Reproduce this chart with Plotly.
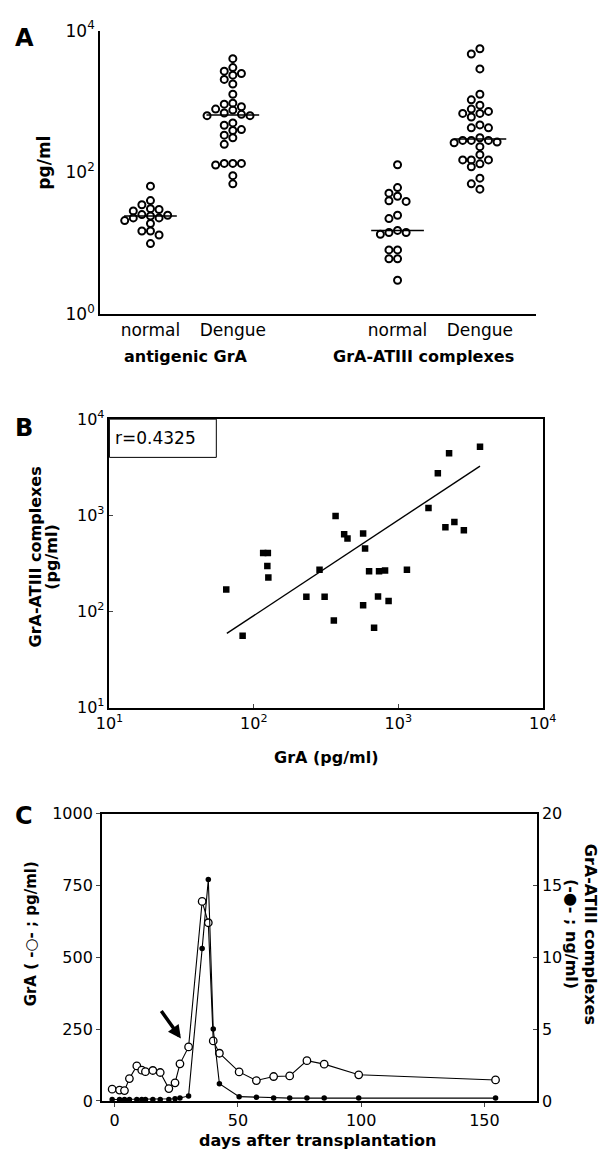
import numpy as np
import plotly.graph_objects as go

W, H = 613, 1160

# ---------------- Panel A data (pg/ml) ----------------
groups_A = ["normal", "Dengue", "normal", "Dengue"]
group_titles_A = ["antigenic GrA", "GrA-ATIII complexes"]
normal_grA = [64, 40, 35, 30, 28.6, 30.8, 24.9, 22.8, 20.9, 25.4, 22.8, 24.3, 19, 14.9, 14.9, 13.1, 9.9]
dengue_grA = [4025, 3014, 2679, 2355, 2485, 2050, 1765, 1266, 918, 948, 843, 782, 757, 688, 631,
              631, 659, 499, 462, 390, 402, 335, 308, 249, 134, 134, 127, 134, 90, 69]
normal_cx = [128, 61, 51, 39.8, 39, 46, 22.3, 24.9, 15.2, 14.2, 13.4, 14.2, 8.07, 8.07, 6.04, 6.04, 3.01]
dengue_cx = [5550, 4677, 2886, 1266, 1055, 889, 782, 680, 604, 680, 725, 425, 425, 468, 283,
             268, 231, 262, 308, 283, 283, 178, 150, 150, 132, 150, 120, 83, 69, 58]

# ---------------- Panel B data (pg/ml) ----------------
b_gra = [64.4, 83.6, 116, 125, 124, 126, 231, 285, 309, 358, 368, 422, 445, 571, 589,
         571, 628, 680, 724, 736, 810, 857, 1148, 1619, 1879, 2120, 2248, 2446, 2845, 3681]
b_cx = [169, 55.9, 404, 406, 296, 225, 142, 271, 142, 80.5, 984, 635, 572, 645, 451,
        116, 262, 67.6, 143, 262, 266, 128, 271, 1191, 2730, 751, 4406, 853, 699, 5160]
fit_x = [65, 3680]
fit_y = [59, 3250]
r_text = "r=0.4325"

# ---------------- Panel C data ----------------
days = [-1, 2, 4, 6, 9, 11, 12.5, 15.5, 18.5, 22, 24.5, 26.5, 30, 35.5, 38, 40, 42.5,
        50.5, 57.5, 64.5, 71, 78, 85, 99, 154.5]
gra_pg = [41, 38, 36, 78, 122, 107, 102, 106, 99, 43, 63, 129, 188, 694, 620, 209, 166,
          101, 71, 85, 87, 140, 128, 91, 73]
cx_ng = [0.1, 0.1, 0.1, 0.1, 0.1, 0.1, 0.1, 0.1, 0.1, 0.1, 0.15, 0.2, 0.35, 10.6, 15.4, 5.0, 1.2,
         0.3, 0.25, 0.2, 0.2, 0.2, 0.2, 0.2, 0.2]
arrow_from = (18.5, 318)
arrow_to = (26.9, 217)

FONT = "DejaVu Sans"


def px_x(p):
    return p / W


def px_y(p):
    return 1 - p / H


# ---------------- layout geometry ----------------
A_left, A_right, A_top, A_bot = 90, 547, 19, 308
B_left, B_right, B_top, B_bot = 100, 554, 415, 709
C_left, C_right, C_top, C_bot = 92, 548, 817, 1110

group_pos = [1, 2, 4, 5]
A_first_px = 143.0
A_unit_px = 86.3
A_range = [1 - (A_first_px - A_left) / A_unit_px, 1 + (A_right - A_first_px) / A_unit_px]
A_dec_px = (A_bot - A_top) / 4.0


def swarm(values, col_px=9.0, min_d=7.0):
    vals = np.asarray(values, dtype=float)
    order = np.argsort(-vals, kind="stable")
    placed = []
    offs = np.zeros(len(vals))
    cands = [0]
    for j in range(1, 12):
        cands += [-j, j]
    for i in order:
        y = np.log10(vals[i]) * A_dec_px
        chosen = 0
        for c in cands:
            x = c * col_px
            if all((x - qx) ** 2 + (y - qy) ** 2 >= min_d ** 2 for qx, qy in placed):
                chosen = x
                break
        placed.append((chosen, y))
        offs[i] = chosen
    return offs / A_unit_px


fig = go.Figure()

# ---- Panel A ----
for pos, vals in zip(group_pos, [normal_grA, dengue_grA, normal_cx, dengue_cx]):
    offs = swarm(vals)
    fig.add_trace(go.Scatter(
        x=pos + offs, y=vals, mode="markers", xaxis="x", yaxis="y",
        marker=dict(symbol="circle-open", size=7, color="black", line=dict(width=2, color="black")),
        showlegend=False, hoverinfo="skip"))
    med = float(np.median(vals))
    fig.add_trace(go.Scatter(
        x=[pos - 0.32, pos + 0.32], y=[med, med], mode="lines", xaxis="x", yaxis="y",
        line=dict(color="black", width=1.5), showlegend=False, hoverinfo="skip"))

# ---- Panel B ----
fig.add_trace(go.Scatter(
    x=b_gra, y=b_cx, mode="markers", xaxis="x2", yaxis="y2",
    marker=dict(symbol="square", size=6.5, color="black"), showlegend=False, hoverinfo="skip"))
fig.add_trace(go.Scatter(
    x=fit_x, y=fit_y, mode="lines", xaxis="x2", yaxis="y2",
    line=dict(color="black", width=1.4), showlegend=False, hoverinfo="skip"))

# ---- Panel C ----
fig.add_trace(go.Scatter(
    x=days, y=cx_ng, mode="lines+markers", xaxis="x3", yaxis="y4",
    line=dict(color="black", width=1.1),
    marker=dict(symbol="circle", size=5.5, color="black"), showlegend=False, hoverinfo="skip"))
fig.add_trace(go.Scatter(
    x=days, y=gra_pg, mode="lines+markers", xaxis="x3", yaxis="y3",
    line=dict(color="black", width=1.1),
    marker=dict(symbol="circle", size=7.5, color="white", line=dict(color="black", width=1.3)),
    showlegend=False, hoverinfo="skip"))

tickf = dict(family=FONT, size=16, color="black")
axis_common = dict(showgrid=False, zeroline=False, showline=True, linecolor="black", linewidth=1.5)

sup = lambda e: "10<sup>%d</sup>" % e

fig.update_layout(
    width=W, height=H, margin=dict(l=0, r=0, t=0, b=0),
    paper_bgcolor="white", plot_bgcolor="white",
    font=dict(family=FONT, color="black", size=16),
    xaxis=dict(domain=[px_x(A_left), px_x(A_right)], range=A_range, anchor="y",
               tickvals=group_pos, ticktext=groups_A, ticks="",
               tickfont=dict(family=FONT, size=17, color="black"), **axis_common),
    yaxis=dict(domain=[px_y(A_bot), px_y(A_top)], type="log", range=[0, 4], anchor="x",
               tickvals=[1, 100, 10000], ticktext=[sup(0), sup(2), sup(4)], ticks="",
               tickfont=dict(family=FONT, size=17, color="black"), **axis_common),
    xaxis2=dict(domain=[px_x(B_left), px_x(B_right)], type="log", range=[1, 4], anchor="y2",
                tickvals=[10, 100, 1000, 10000], ticktext=[sup(1), sup(2), sup(3), sup(4)],
                ticks="inside", ticklen=4, mirror=True, tickfont=tickf, **axis_common),
    yaxis2=dict(domain=[px_y(B_bot), px_y(B_top)], type="log", range=[1, 4], anchor="x2",
                tickvals=[10, 100, 1000, 10000], ticktext=[sup(1), sup(2), sup(3), sup(4)],
                ticks="inside", ticklen=4, mirror=True, tickfont=tickf, **axis_common),
    xaxis3=dict(domain=[px_x(C_left), px_x(C_right)], range=[-5.2, 171.3], anchor="y3",
                tickvals=[0, 50, 100, 150], ticks="outside", ticklen=4, mirror=True,
                tickfont=tickf, **axis_common),
    yaxis3=dict(domain=[px_y(C_bot), px_y(C_top)], range=[0, 1000], anchor="x3",
                tickvals=[0, 250, 500, 750, 1000], ticks="outside", ticklen=4,
                tickfont=tickf, **axis_common),
    yaxis4=dict(domain=[px_y(C_bot), px_y(C_top)], range=[0, 20], anchor="x3", overlaying="y3",
                side="right", tickvals=[0, 5, 10, 15, 20], ticks="inside", ticklen=4,
                tickfont=tickf, **axis_common),
)

ann = []


def txt(text, x, y, size=16, angle=0, bold=True, xanchor="center"):
    ann.append(dict(text=("<b>%s</b>" % text) if bold else text, x=px_x(x), y=px_y(y),
                    xref="paper", yref="paper", showarrow=False, textangle=angle,
                    xanchor=xanchor, yanchor="middle",
                    font=dict(family=FONT, size=size, color="black")))


# panel letters
txt("A", 11, 26, size=24)
txt("B", 11, 424, size=24)
txt("C", 11, 820, size=24)

# Panel A titles
txt("pg/ml", 31, 154, size=17, angle=-90)
txt(group_titles_A[0], 180, 351, size=16)
txt(group_titles_A[1], 429, 351, size=16)

# Panel B titles
txt("GrA-ATIII complexes", 22, 555, size=16, angle=-90)
txt("(pg/ml)", 39, 555, size=16, angle=-90)
txt("GrA (pg/ml)", 327, 760, size=16)
txt(r_text, 104, 434, size=17, bold=False, xanchor="left")

# Panel C titles
txt("GrA ( -○- ; pg/ml)", 18, 940, size=15, angle=-90)
txt("GrA-ATIII complexes", 604, 940, size=16, angle=90)
txt("(-●- ; ng/ml)", 585, 940, size=16, angle=90)
txt("days after transplantation", 318, 1150, size=16)

# arrow in panel C
ann.append(dict(x=arrow_to[0], y=arrow_to[1], ax=arrow_from[0], ay=arrow_from[1],
                xref="x3", yref="y3", axref="x3", ayref="y3", text="", showarrow=True,
                arrowhead=2, arrowsize=0.75, arrowwidth=3.5, arrowcolor="black"))

fig.update_layout(annotations=ann)

fig.add_shape(type="rect", xref="paper", yref="paper",
              x0=px_x(B_left), x1=px_x(212), y0=px_y(454), y1=px_y(B_top),
              line=dict(color="black", width=1))

fig.write_html("out.html", config={"displayModeBar": False},
               post_script="document.body.style.margin='0px';document.body.style.overflow='hidden';")
